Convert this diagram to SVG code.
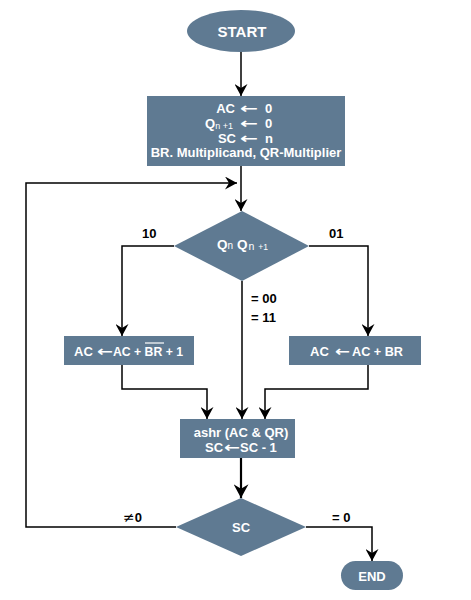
<svg xmlns="http://www.w3.org/2000/svg" width="471" height="600" viewBox="0 0 471 600">
<defs>
<style>
.n{fill:#5f7a92;}
.t{font-family:"Liberation Sans",Arial,sans-serif;font-weight:bold;font-size:13px;fill:#fff;}
.a{font-family:"DejaVu Sans",sans-serif;font-weight:bold;font-size:14px;fill:#fff;}
.s{font-family:"Liberation Sans",Arial,sans-serif;font-weight:normal;font-size:9px;fill:#fff;}
.l{font-family:"Liberation Sans",Arial,sans-serif;font-weight:bold;font-size:13px;fill:#000;}
.c{fill:none;stroke:#000;stroke-width:1.5;}
</style>
<marker id="ah" viewBox="0 0 12 13" refX="12" refY="6.5" markerWidth="12" markerHeight="13" markerUnits="userSpaceOnUse" orient="auto">
<path d="M0,0 L12,6.5 L0,13 L4,6.5 Z" fill="#000"/>
</marker>
<marker id="ahb" viewBox="0 0 12 13" refX="12" refY="6.5" markerWidth="14" markerHeight="15" markerUnits="userSpaceOnUse" orient="auto">
<path d="M0,0 L12,6.5 L0,13 L4,6.5 Z" fill="#000"/>
</marker>
</defs>
<rect width="471" height="600" fill="#fff"/>

<g id="connectors">
<path class="c" d="M241,52 V96" marker-end="url(#ah)"/>
<path class="c" d="M241,166 V211" marker-end="url(#ah)"/>
<path class="c" d="M176,527 H26 V183 H237" marker-end="url(#ah)"/>
<path class="c" d="M174,246 H122 V336" marker-end="url(#ah)"/>
<path class="c" d="M309,246 H368 V336" marker-end="url(#ah)"/>
<path class="c" d="M242,281 V419" marker-end="url(#ah)"/>
<path class="c" d="M122,365 V389 H207 V419" marker-end="url(#ah)"/>
<path class="c" d="M368,365 V389 H265 V419" marker-end="url(#ah)"/>
<path class="c" style="stroke-width:2.2" d="M241,458 V498" marker-end="url(#ahb)"/>
<path class="c" d="M306,527 H372 V561" marker-end="url(#ah)"/>
<text class="l" x="142" y="238">10</text>
<text class="l" x="329" y="238">01</text>
<text class="l" x="251" y="303">= 00</text>
<text class="l" x="251" y="322">= 11</text>
<text class="l" x="123" y="522"><tspan style="font-family:'DejaVu Sans',sans-serif;font-weight:normal;font-size:14px">≠</tspan>0</text>
<text class="l" x="332" y="522">= 0</text>
</g>

<g id="start">
<ellipse class="n" cx="241" cy="31" rx="54" ry="21"/>
<text class="t" x="242" y="37" text-anchor="middle" style="font-size:15px">START</text>
</g>

<g id="init">
<rect class="n" x="147" y="96" width="198" height="70"/>
<text class="t" x="235" y="113" text-anchor="end">AC</text>
<text class="a" x="240" y="113" textLength="18" lengthAdjust="spacingAndGlyphs">←</text>
<text class="t" x="265" y="113">0</text>
<text class="t" x="205" y="128">Q<tspan class="s" dy="1">n +1</tspan></text>
<text class="a" x="240" y="128" textLength="18" lengthAdjust="spacingAndGlyphs">←</text>
<text class="t" x="265" y="128">0</text>
<text class="t" x="236" y="143" text-anchor="end">SC</text>
<text class="a" x="240" y="143" textLength="18" lengthAdjust="spacingAndGlyphs">←</text>
<text class="t" x="265" y="143">n</text>
<text class="t" x="246" y="157" text-anchor="middle">BR. Multiplicand, QR-Multiplier</text>
</g>

<g id="check">
<polygon class="n" points="242,211 309,246 242,281 174,246"/>
<text class="t" x="217" y="249" style="font-size:13.5px">Q<tspan class="s" style="font-size:10px">n</tspan></text>
<text class="t" x="237" y="249" style="font-size:13.5px">Q<tspan class="s" style="font-size:10.5px" dx="1" dy="1">n</tspan><tspan class="s" style="font-size:8.5px" dx="4">+1</tspan></text>
</g>

<g id="sub">
<rect class="n" x="64" y="336" width="130" height="29"/>
<text class="t" x="74" y="356">AC</text>
<text class="a" x="97" y="356" textLength="16" lengthAdjust="spacingAndGlyphs">←</text>
<text class="t" x="113" y="356" textLength="70" lengthAdjust="spacingAndGlyphs">AC + BR + 1</text>
<line x1="145" y1="343" x2="164" y2="343" stroke="#fff" stroke-width="1.2"/>
</g>

<g id="add">
<rect class="n" x="289" y="336" width="132" height="29"/>
<text class="t" x="310" y="356">AC</text>
<text class="a" x="335" y="356" textLength="15" lengthAdjust="spacingAndGlyphs">←</text>
<text class="t" x="352" y="356" textLength="51" lengthAdjust="spacingAndGlyphs">AC + BR</text>
</g>

<g id="shift">
<rect class="n" x="180" y="419" width="115" height="39"/>
<text class="t" x="241" y="437" text-anchor="middle">ashr (AC &amp; QR)</text>
<text class="t" x="205" y="452">SC</text>
<text class="a" x="224" y="452" textLength="16" lengthAdjust="spacingAndGlyphs">←</text>
<text class="t" x="240" y="452">SC - 1</text>
</g>

<g id="sc">
<polygon class="n" points="241,498 306,527 241,556 176,527"/>
<text class="t" x="241" y="532" text-anchor="middle">SC</text>
</g>

<g id="end">
<rect class="n" x="341" y="561" width="62" height="29" rx="14.5"/>
<text class="t" x="372" y="581" text-anchor="middle">END</text>
</g>
</svg>
